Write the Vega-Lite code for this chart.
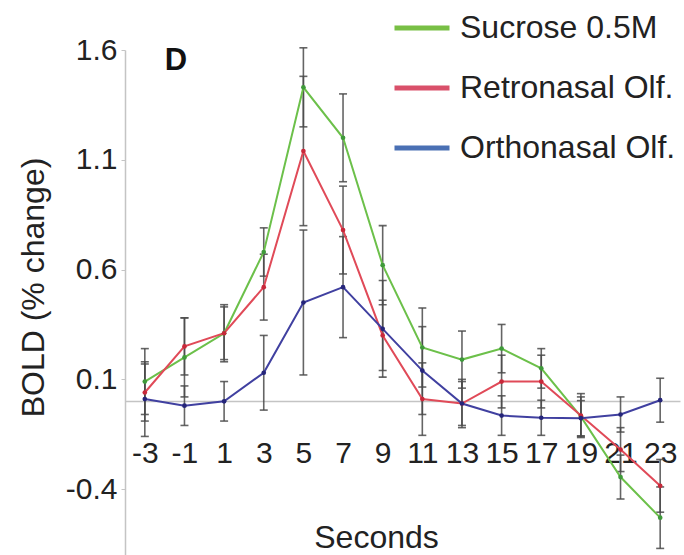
{
  "$schema": "https://vega.github.io/schema/vega-lite/v6.json",
  "width": 555,
  "height": 505,
  "autosize": {"type": "none"},
  "padding": {"left": 125, "top": 50, "right": 4, "bottom": 0},
  "background": "white",
  "config": {
    "view": {"stroke": null},
    "font": "Liberation Sans",
    "axis": {
      "labelFont": "Liberation Sans",
      "titleFont": "Liberation Sans",
      "labelFontSize": 30,
      "titleFontSize": 32,
      "labelColor": "#222",
      "titleColor": "#222",
      "titleFontWeight": "normal",
      "domainColor": "#c4c4c4",
      "domainWidth": 1.5,
      "tickColor": "#c4c4c4",
      "grid": false
    }
  },
  "datasets": {
    "bold": [
      {"t": -3, "s": "Sucrose 0.5M", "v": 0.09, "lo": -0.06, "hi": 0.24},
      {"t": -1, "s": "Sucrose 0.5M", "v": 0.2, "lo": 0.02, "hi": 0.38},
      {"t": 1, "s": "Sucrose 0.5M", "v": 0.31, "lo": 0.18, "hi": 0.44},
      {"t": 3, "s": "Sucrose 0.5M", "v": 0.68, "lo": 0.57, "hi": 0.79},
      {"t": 5, "s": "Sucrose 0.5M", "v": 1.43, "lo": 1.25, "hi": 1.61},
      {"t": 7, "s": "Sucrose 0.5M", "v": 1.2, "lo": 1.0, "hi": 1.4},
      {"t": 9, "s": "Sucrose 0.5M", "v": 0.62, "lo": 0.44, "hi": 0.8},
      {"t": 11, "s": "Sucrose 0.5M", "v": 0.245, "lo": 0.065, "hi": 0.425},
      {"t": 13, "s": "Sucrose 0.5M", "v": 0.19, "lo": 0.06, "hi": 0.32},
      {"t": 15, "s": "Sucrose 0.5M", "v": 0.24, "lo": 0.13, "hi": 0.35},
      {"t": 17, "s": "Sucrose 0.5M", "v": 0.15, "lo": 0.06, "hi": 0.24},
      {"t": 19, "s": "Sucrose 0.5M", "v": -0.07, "lo": -0.16, "hi": 0.02},
      {"t": 21, "s": "Sucrose 0.5M", "v": -0.345, "lo": -0.445, "hi": -0.245},
      {"t": 23, "s": "Sucrose 0.5M", "v": -0.53, "lo": -0.67, "hi": -0.39},
      {"t": -3, "s": "Retronasal Olf.", "v": 0.04, "lo": -0.09, "hi": 0.17},
      {"t": -1, "s": "Retronasal Olf.", "v": 0.25, "lo": 0.12, "hi": 0.38},
      {"t": 1, "s": "Retronasal Olf.", "v": 0.31, "lo": 0.19, "hi": 0.43},
      {"t": 3, "s": "Retronasal Olf.", "v": 0.52, "lo": 0.37, "hi": 0.67},
      {"t": 5, "s": "Retronasal Olf.", "v": 1.14, "lo": 0.8, "hi": 1.48},
      {"t": 7, "s": "Retronasal Olf.", "v": 0.78, "lo": 0.58, "hi": 0.98},
      {"t": 9, "s": "Retronasal Olf.", "v": 0.3, "lo": 0.14, "hi": 0.46},
      {"t": 11, "s": "Retronasal Olf.", "v": 0.01, "lo": -0.155, "hi": 0.175},
      {"t": 13, "s": "Retronasal Olf.", "v": -0.01, "lo": -0.12, "hi": 0.1},
      {"t": 15, "s": "Retronasal Olf.", "v": 0.09, "lo": -0.03, "hi": 0.21},
      {"t": 17, "s": "Retronasal Olf.", "v": 0.09, "lo": -0.03, "hi": 0.21},
      {"t": 19, "s": "Retronasal Olf.", "v": -0.065, "lo": -0.165, "hi": 0.035},
      {"t": 21, "s": "Retronasal Olf.", "v": -0.22, "lo": -0.32, "hi": -0.12},
      {"t": 23, "s": "Retronasal Olf.", "v": -0.385, "lo": -0.505, "hi": -0.265},
      {"t": -3, "s": "Orthonasal Olf.", "v": 0.01, "lo": -0.16, "hi": 0.18},
      {"t": -1, "s": "Orthonasal Olf.", "v": -0.02, "lo": -0.11, "hi": 0.07},
      {"t": 1, "s": "Orthonasal Olf.", "v": 0.0, "lo": -0.09, "hi": 0.09},
      {"t": 3, "s": "Orthonasal Olf.", "v": 0.13, "lo": -0.04, "hi": 0.3},
      {"t": 5, "s": "Orthonasal Olf.", "v": 0.45, "lo": 0.12, "hi": 0.78},
      {"t": 7, "s": "Orthonasal Olf.", "v": 0.52, "lo": 0.29, "hi": 0.75},
      {"t": 9, "s": "Orthonasal Olf.", "v": 0.33, "lo": 0.11, "hi": 0.55},
      {"t": 11, "s": "Orthonasal Olf.", "v": 0.14, "lo": -0.06, "hi": 0.34},
      {"t": 13, "s": "Orthonasal Olf.", "v": -0.01, "lo": -0.11, "hi": 0.09},
      {"t": 15, "s": "Orthonasal Olf.", "v": -0.065, "lo": -0.155, "hi": 0.025},
      {"t": 17, "s": "Orthonasal Olf.", "v": -0.075, "lo": -0.155, "hi": 0.005},
      {"t": 19, "s": "Orthonasal Olf.", "v": -0.077, "lo": -0.157, "hi": 0.003},
      {"t": 21, "s": "Orthonasal Olf.", "v": -0.06, "lo": -0.14, "hi": 0.02},
      {"t": 23, "s": "Orthonasal Olf.", "v": 0.005, "lo": -0.095, "hi": 0.105}
    ],
    "note": [{"t": -2, "v": 1.55, "label": "D"}]
  },
  "data": {"name": "bold"},
  "encoding": {
    "x": {
      "field": "t",
      "type": "quantitative",
      "scale": {"domain": [-4, 24], "nice": false, "zero": false},
      "axis": {
        "values": [-3, -1, 1, 3, 5, 7, 9, 11, 13, 15, 17, 19, 21, 23],
        "labelExpr": "replace(datum.label, '\u2212', '-')",
        "offset": -154,
        "ticks": false,
        "labelPadding": 37,
        "labelOverlap": false,
        "labelFlush": false,
        "title": "Seconds",
        "titleX": 251,
        "titleY": 146,
        "titleAlign": "center",
        "titleBaseline": "alphabetic"
      }
    }
  },
  "layer": [
    {
      "mark": {"type": "rule", "color": "#4a4a4a", "strokeWidth": 1.6, "opacity": 0.85},
      "encoding": {
        "y": {
          "field": "lo",
          "type": "quantitative",
          "scale": {"domain": [-0.7, 1.6], "nice": false, "zero": false},
          "axis": {
            "values": [1.6, 1.1, 0.6, 0.1, -0.4],
            "format": ".1f",
            "labelExpr": "replace(datum.label, '\u2212', '-')",
            "tickSize": 4,
            "labelPadding": 4,
            "title": "BOLD (% change)",
            "titleX": -92,
            "titleY": 237,
            "titleAngle": 270,
            "titleAlign": "center",
            "titleBaseline": "middle"
          }
        },
        "y2": {"field": "hi"}
      }
    },
    {
      "mark": {"type": "tick", "color": "#4a4a4a", "thickness": 1.6, "size": 8, "orient": "horizontal", "opacity": 0.85},
      "encoding": {"y": {"field": "lo", "type": "quantitative"}}
    },
    {
      "mark": {"type": "tick", "color": "#4a4a4a", "thickness": 1.6, "size": 8, "orient": "horizontal", "opacity": 0.85},
      "encoding": {"y": {"field": "hi", "type": "quantitative"}}
    },
    {
      "mark": {"type": "line", "strokeWidth": 2},
      "encoding": {
        "y": {"field": "v", "type": "quantitative"},
        "color": {
          "field": "s",
          "type": "nominal",
          "scale": {"domain": ["Sucrose 0.5M", "Retronasal Olf.", "Orthonasal Olf."], "range": ["#6cc04a", "#e04a58", "#4040a0"]},
          "legend": null
        }
      }
    },
    {
      "mark": {"type": "circle", "size": 22, "opacity": 1},
      "encoding": {
        "y": {"field": "v", "type": "quantitative"},
        "color": {
          "field": "s",
          "type": "nominal",
          "scale": {"domain": ["Sucrose 0.5M", "Retronasal Olf.", "Orthonasal Olf."], "range": ["#3f9a3a", "#c8283a", "#25257a"]},
          "legend": null
        }
      }
    },
    {
      "mark": {"type": "line", "opacity": 0},
      "encoding": {
        "y": {"field": "v", "type": "quantitative"},
        "color": {
          "field": "s",
          "type": "nominal",
          "scale": {"domain": ["Sucrose 0.5M", "Retronasal Olf.", "Orthonasal Olf."], "range": ["#78bf45", "#d9506a", "#4a70b4"]},
          "legend": {
            "orient": "none",
            "legendX": 267,
            "legendY": -52,
            "title": null,
            "symbolType": "stroke",
            "symbolSize": 3025,
            "symbolStrokeWidth": 5,
            "symbolOpacity": 1,
            "labelFont": "Liberation Sans",
            "labelFontSize": 32,
            "labelColor": "#222",
            "labelOffset": 8,
            "labelLimit": 400,
            "rowPadding": 14
          }
        }
      }
    },
    {
      "data": {"name": "note"},
      "mark": {"type": "text", "font": "Liberation Sans", "fontSize": 31, "fontWeight": "bold", "align": "left", "baseline": "middle", "color": "#111"},
      "encoding": {
        "y": {"field": "v", "type": "quantitative"},
        "text": {"field": "label"}
      }
    }
  ],
  "resolve": {"scale": {"color": "independent"}}
}
